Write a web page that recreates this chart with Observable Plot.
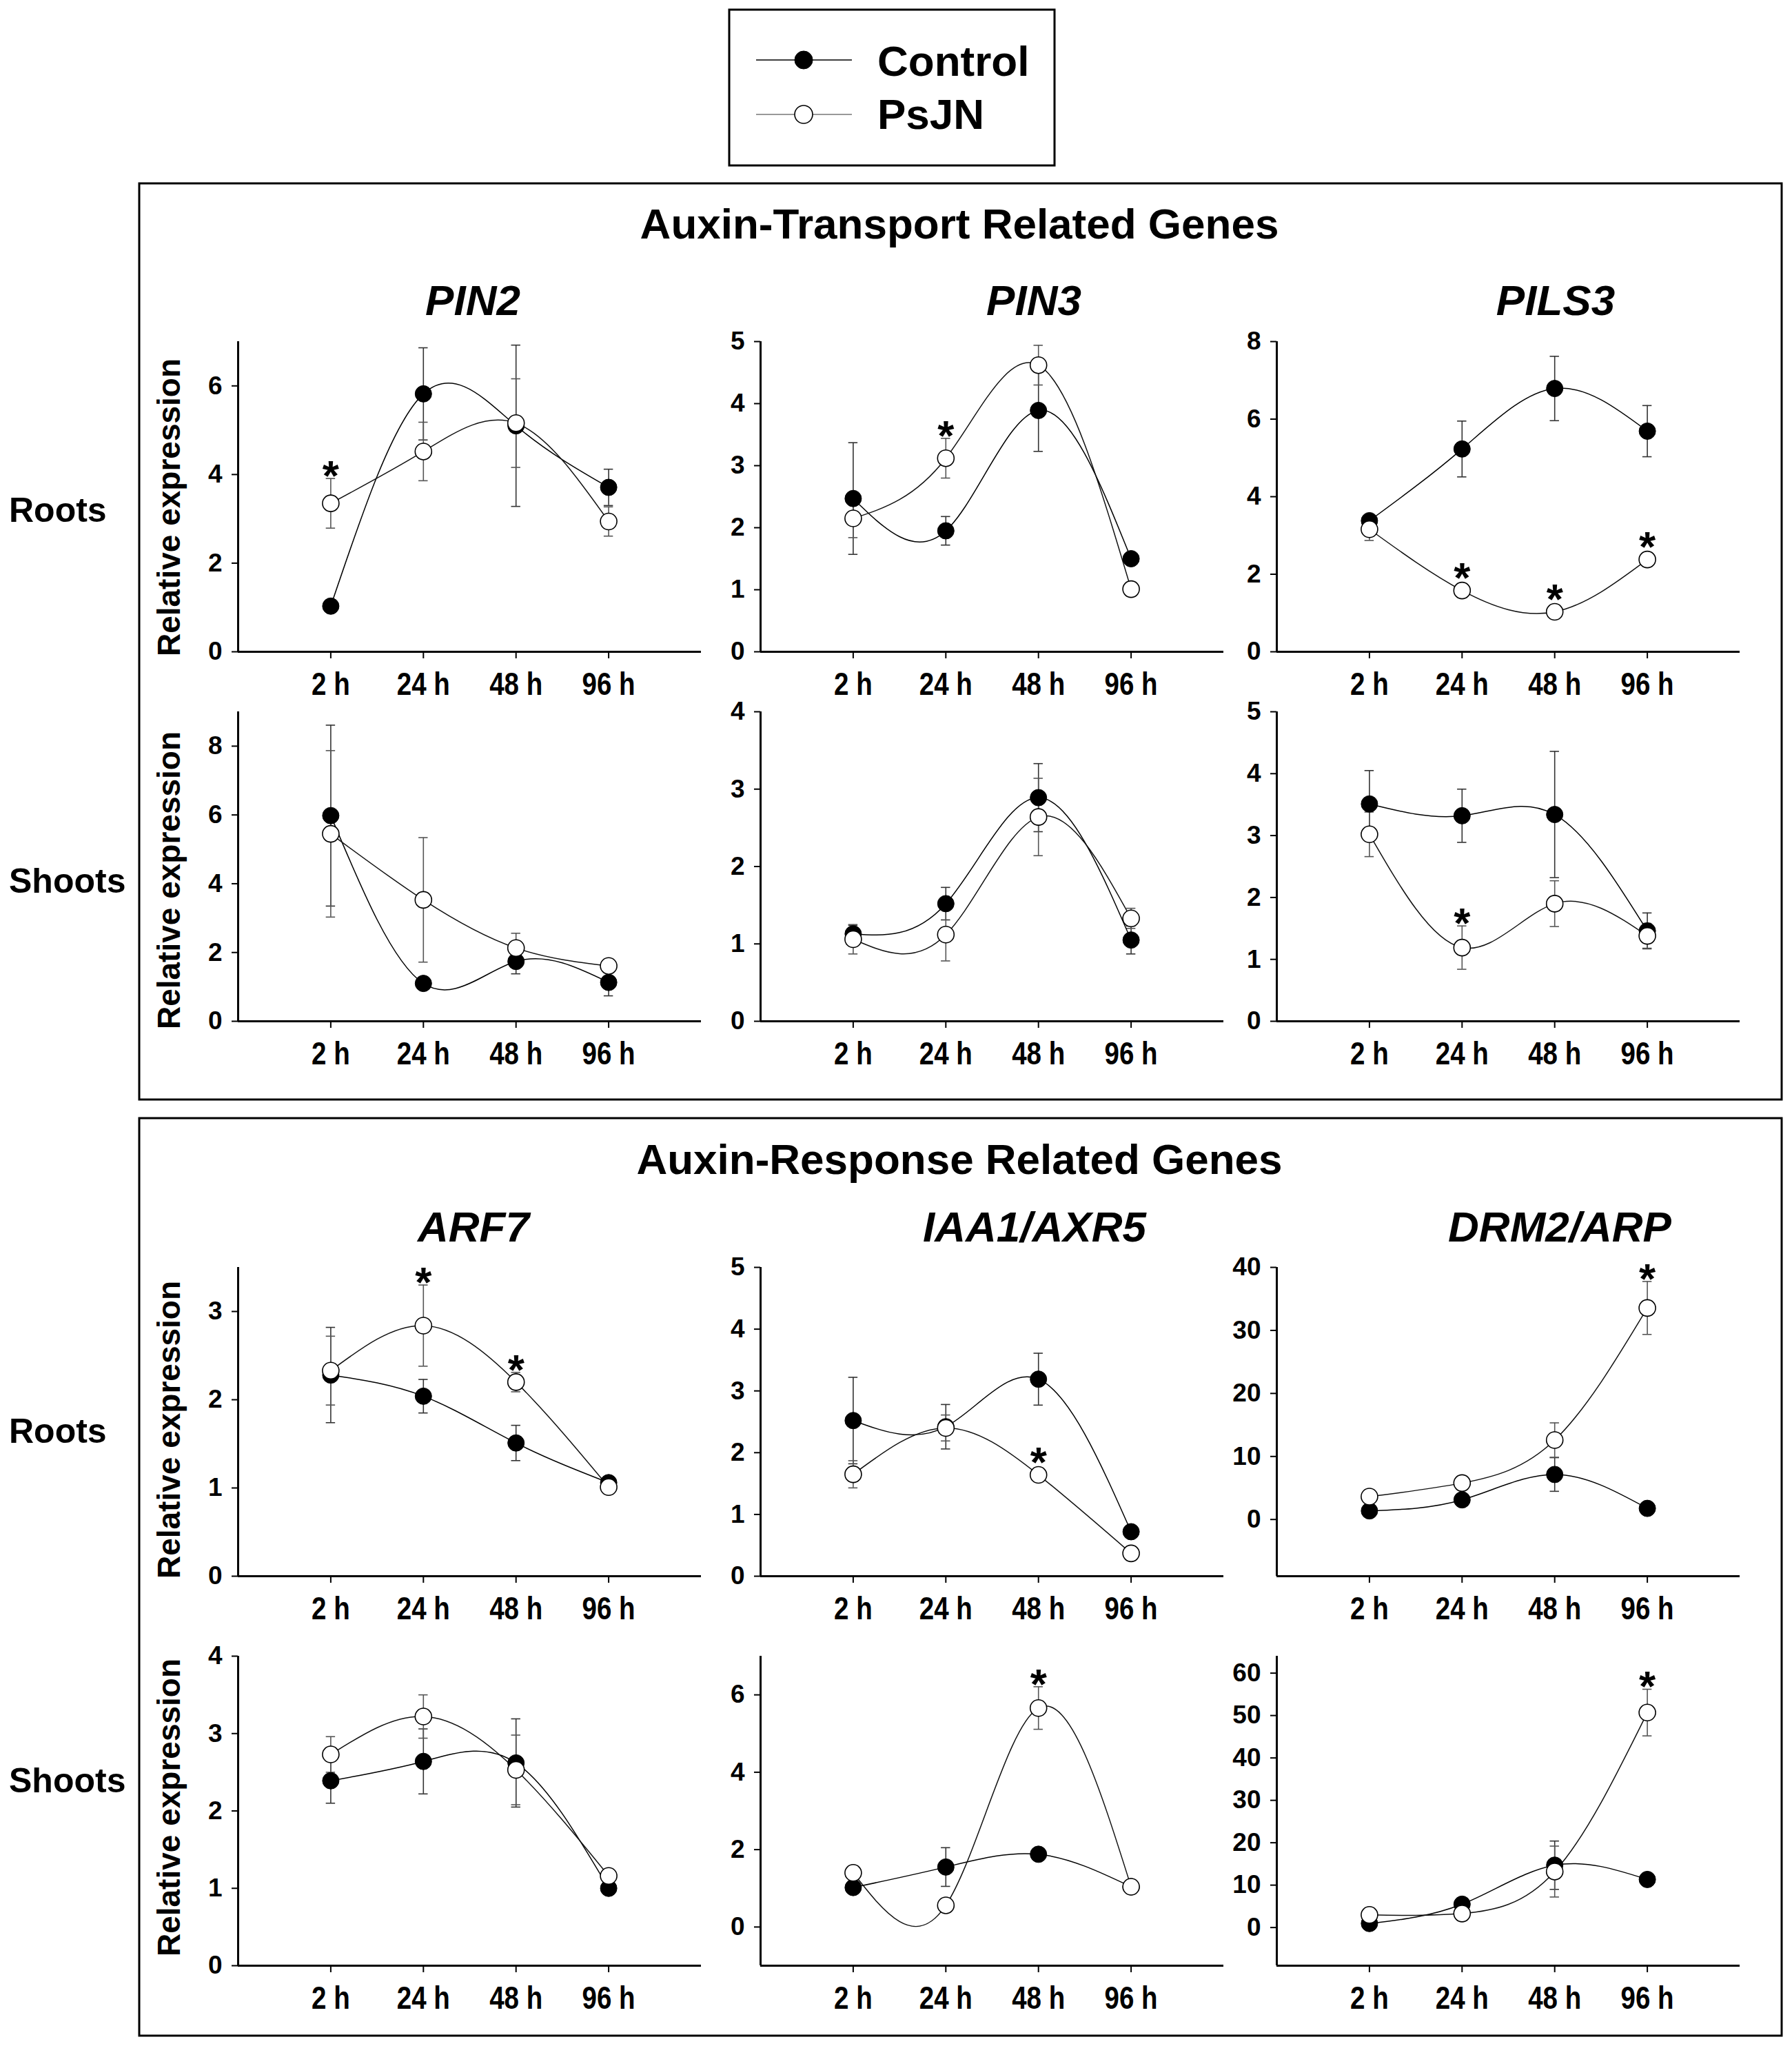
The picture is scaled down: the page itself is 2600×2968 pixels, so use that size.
<!DOCTYPE html>
<html>
<head>
<meta charset="utf-8">
<script src="https://cdn.jsdelivr.net/npm/d3@7"></script>
<script src="https://cdn.jsdelivr.net/npm/@observablehq/plot@0.6"></script>
<style>
  html, body { margin: 0; padding: 0; background: #fff; }
  #fig { position: relative; width: 2600px; height: 2968px; background: #fff; overflow: hidden; }
  #fig > svg.overlay { position: absolute; left: 0; top: 0; }
  .panel { position: absolute; }
</style>
</head>
<body>
<div id="fig"></div>
<script>
// ---------- Data ----------
const times = ["2 h", "24 h", "48 h", "96 h"];
const timePos = [1, 2, 3, 4];
const series = ["Control", "PsJN"];

// Auxin-transport related genes — Roots
const pin2R_ctl = [1.03, 5.82, 5.10, 3.71];
const pin2R_ctlSE = [0.05, 1.04, 1.82, 0.41];
const pin2R_psj = [3.35, 4.52, 5.16, 2.94];
const pin2R_psjSE = [0.56, 0.66, 1.00, 0.33];
const pin2R_star = [1, 0, 0, 0];

const pin3R_ctl = [2.47, 1.95, 3.89, 1.50];
const pin3R_ctlSE = [0.90, 0.23, 0.66, 0.05];
const pin3R_psj = [2.15, 3.12, 4.62, 1.01];
const pin3R_psjSE = [0.31, 0.32, 0.32, 0.03];
const pin3R_star = [0, 1, 0, 0];

const pils3R_ctl = [3.38, 5.23, 6.79, 5.69];
const pils3R_ctlSE = [0.10, 0.72, 0.83, 0.66];
const pils3R_psj = [3.16, 1.58, 1.03, 2.38];
const pils3R_psjSE = [0.29, 0.08, 0.06, 0.08];
const pils3R_star = [0, 1, 1, 1];

// Auxin-transport related genes — Shoots
const pin2S_ctl = [5.98, 1.10, 1.74, 1.13];
const pin2S_ctlSE = [2.63, 0.15, 0.36, 0.39];
const pin2S_psj = [5.45, 3.53, 2.13, 1.61];
const pin2S_psjSE = [2.42, 1.81, 0.43, 0.10];
const pin2S_star = [0, 0, 0, 0];

const pin3S_ctl = [1.13, 1.52, 2.89, 1.05];
const pin3S_ctlSE = [0.11, 0.21, 0.44, 0.18];
const pin3S_psj = [1.06, 1.12, 2.64, 1.33];
const pin3S_psjSE = [0.19, 0.34, 0.50, 0.13];
const pin3S_star = [0, 0, 0, 0];

const pils3S_ctl = [3.51, 3.32, 3.34, 1.46];
const pils3S_ctlSE = [0.54, 0.43, 1.02, 0.29];
const pils3S_psj = [3.02, 1.19, 1.90, 1.38];
const pils3S_psjSE = [0.36, 0.35, 0.37, 0.20];
const pils3S_star = [0, 1, 0, 0];

// Auxin-response related genes — Roots
const arf7R_ctl = [2.28, 2.04, 1.51, 1.06];
const arf7R_ctlSE = [0.54, 0.19, 0.20, 0.03];
const arf7R_psj = [2.33, 2.84, 2.20, 1.01];
const arf7R_psjSE = [0.39, 0.46, 0.11, 0.03];
const arf7R_star = [0, 1, 1, 0];

const iaa1R_ctl = [2.52, 2.42, 3.19, 0.72];
const iaa1R_ctlSE = [0.70, 0.36, 0.42, 0.03];
const iaa1R_psj = [1.65, 2.40, 1.64, 0.37];
const iaa1R_psjSE = [0.22, 0.21, 0.05, 0.03];
const iaa1R_star = [0, 0, 1, 0];

const drm2R_ctl = [1.37, 3.12, 7.14, 1.76];
const drm2R_ctlSE = [0.3, 0.5, 2.67, 0.3];
const drm2R_psj = [3.63, 5.78, 12.6, 33.56];
const drm2R_psjSE = [0.4, 0.5, 2.73, 4.2];
const drm2R_star = [0, 0, 0, 1];

// Auxin-response related genes — Shoots
const arf7S_ctl = [2.39, 2.64, 2.62, 1.00];
const arf7S_ctlSE = [0.29, 0.42, 0.57, 0.03];
const arf7S_psj = [2.73, 3.22, 2.53, 1.16];
const arf7S_psjSE = [0.23, 0.28, 0.45, 0.03];
const arf7S_star = [0, 0, 0, 0];

const iaa1S_ctl = [1.02, 1.55, 1.88, 1.04];
const iaa1S_ctlSE = [0.05, 0.50, 0.08, 0.05];
const iaa1S_psj = [1.40, 0.56, 5.66, 1.04];
const iaa1S_psjSE = [0.05, 0.05, 0.55, 0.05];
const iaa1S_star = [0, 0, 1, 0];

const drm2S_ctl = [0.95, 5.5, 14.7, 11.34];
const drm2S_ctlSE = [0.3, 0.8, 5.7, 1.5];
const drm2S_psj = [2.98, 3.3, 13.2, 50.7];
const drm2S_psjSE = [0.3, 0.3, 6.0, 5.5];
const drm2S_star = [0, 0, 0, 1];

// y-axis domains and tick values per panel
const yDom_pin2R = [0, 7],   yTicks_pin2R = [0, 2, 4, 6];
const yDom_pin3R = [0, 5],   yTicks_pin3R = [0, 1, 2, 3, 4, 5];
const yDom_pils3R = [0, 8],  yTicks_pils3R = [0, 2, 4, 6, 8];
const yDom_pin2S = [0, 9],   yTicks_pin2S = [0, 2, 4, 6, 8];
const yDom_pin3S = [0, 4],   yTicks_pin3S = [0, 1, 2, 3, 4];
const yDom_pils3S = [0, 5],  yTicks_pils3S = [0, 1, 2, 3, 4, 5];
const yDom_arf7R = [0, 3.5], yTicks_arf7R = [0, 1, 2, 3];
const yDom_iaa1R = [0, 5],   yTicks_iaa1R = [0, 1, 2, 3, 4, 5];
const yDom_drm2R = [-9, 40], yTicks_drm2R = [0, 10, 20, 30, 40];
const yDom_arf7S = [0, 4],   yTicks_arf7S = [0, 1, 2, 3, 4];
const yDom_iaa1S = [-1, 7],  yTicks_iaa1S = [0, 2, 4, 6];
const yDom_drm2S = [-9, 64], yTicks_drm2S = [0, 10, 20, 30, 40, 50, 60];

// ---------- Layout ----------
const W = 2600, H = 2968;
const colLeft = [345, 1103, 1852];
const rowTop = [495, 1032, 1838, 2402];
const rowBottom = [945, 1481, 2286, 2851];
const plotW = 672;

const panels = [
  {row: 0, col: 0, ctl: pin2R_ctl, ctlSE: pin2R_ctlSE, psj: pin2R_psj, psjSE: pin2R_psjSE, star: pin2R_star, dom: yDom_pin2R, ticks: yTicks_pin2R},
  {row: 0, col: 1, ctl: pin3R_ctl, ctlSE: pin3R_ctlSE, psj: pin3R_psj, psjSE: pin3R_psjSE, star: pin3R_star, dom: yDom_pin3R, ticks: yTicks_pin3R},
  {row: 0, col: 2, ctl: pils3R_ctl, ctlSE: pils3R_ctlSE, psj: pils3R_psj, psjSE: pils3R_psjSE, star: pils3R_star, dom: yDom_pils3R, ticks: yTicks_pils3R},
  {row: 1, col: 0, ctl: pin2S_ctl, ctlSE: pin2S_ctlSE, psj: pin2S_psj, psjSE: pin2S_psjSE, star: pin2S_star, dom: yDom_pin2S, ticks: yTicks_pin2S},
  {row: 1, col: 1, ctl: pin3S_ctl, ctlSE: pin3S_ctlSE, psj: pin3S_psj, psjSE: pin3S_psjSE, star: pin3S_star, dom: yDom_pin3S, ticks: yTicks_pin3S},
  {row: 1, col: 2, ctl: pils3S_ctl, ctlSE: pils3S_ctlSE, psj: pils3S_psj, psjSE: pils3S_psjSE, star: pils3S_star, dom: yDom_pils3S, ticks: yTicks_pils3S},
  {row: 2, col: 0, ctl: arf7R_ctl, ctlSE: arf7R_ctlSE, psj: arf7R_psj, psjSE: arf7R_psjSE, star: arf7R_star, dom: yDom_arf7R, ticks: yTicks_arf7R},
  {row: 2, col: 1, ctl: iaa1R_ctl, ctlSE: iaa1R_ctlSE, psj: iaa1R_psj, psjSE: iaa1R_psjSE, star: iaa1R_star, dom: yDom_iaa1R, ticks: yTicks_iaa1R},
  {row: 2, col: 2, ctl: drm2R_ctl, ctlSE: drm2R_ctlSE, psj: drm2R_psj, psjSE: drm2R_psjSE, star: drm2R_star, dom: yDom_drm2R, ticks: yTicks_drm2R},
  {row: 3, col: 0, ctl: arf7S_ctl, ctlSE: arf7S_ctlSE, psj: arf7S_psj, psjSE: arf7S_psjSE, star: arf7S_star, dom: yDom_arf7S, ticks: yTicks_arf7S},
  {row: 3, col: 1, ctl: iaa1S_ctl, ctlSE: iaa1S_ctlSE, psj: iaa1S_psj, psjSE: iaa1S_psjSE, star: iaa1S_star, dom: yDom_iaa1S, ticks: yTicks_iaa1S},
  {row: 3, col: 2, ctl: drm2S_ctl, ctlSE: drm2S_ctlSE, psj: drm2S_psj, psjSE: drm2S_psjSE, star: drm2S_star, dom: yDom_drm2S, ticks: yTicks_drm2S}
];

const FONT = "'Liberation Sans', Arial, Helvetica, sans-serif";
const fig = document.getElementById("fig");

// ---------- Static overlay: boxes, titles, row labels, legend ----------
const ov = d3.select(fig).append("svg").attr("class", "overlay")
  .attr("width", W).attr("height", H).attr("viewBox", `0 0 ${W} ${H}`)
  .style("font-family", FONT);

// section boxes
ov.append("rect").attr("x", 202).attr("y", 266).attr("width", 2383).attr("height", 1329)
  .attr("fill", "none").attr("stroke", "#000").attr("stroke-width", 3);
ov.append("rect").attr("x", 202).attr("y", 1622).attr("width", 2383).attr("height", 1331)
  .attr("fill", "none").attr("stroke", "#000").attr("stroke-width", 3);

// legend
const lg = ov.append("g");
lg.append("rect").attr("x", 1058).attr("y", 14).attr("width", 472).attr("height", 226)
  .attr("fill", "#fff").attr("stroke", "#000").attr("stroke-width", 3);
lg.append("line").attr("x1", 1097).attr("x2", 1236).attr("y1", 87).attr("y2", 87).attr("stroke", "#000").attr("stroke-width", 1.6);
lg.append("circle").attr("cx", 1166).attr("cy", 87).attr("r", 13).attr("fill", "#000").attr("stroke", "#000");
lg.append("line").attr("x1", 1097).attr("x2", 1236).attr("y1", 166).attr("y2", 166).attr("stroke", "#777").attr("stroke-width", 1.6);
lg.append("circle").attr("cx", 1166).attr("cy", 166).attr("r", 13).attr("fill", "#fff").attr("stroke", "#000").attr("stroke-width", 1.6);
lg.append("text").attr("x", 1273).attr("y", 110).attr("font-size", 62).attr("font-weight", "bold").text(series[0]);
lg.append("text").attr("x", 1273).attr("y", 187).attr("font-size", 62).attr("font-weight", "bold").text(series[1]);

// section titles
const sectionTitles = ["Auxin-Transport Related Genes", "Auxin-Response Related Genes"];
const sectionTitleY = [346, 1703];
sectionTitles.forEach((t, i) => {
  ov.append("text").attr("x", 1392).attr("y", sectionTitleY[i]).attr("text-anchor", "middle")
    .attr("font-size", 62).attr("font-weight", "bold").text(t);
});

// gene titles
const geneNames = [["PIN2", "PIN3", "PILS3"], ["ARF7", "IAA1/AXR5", "DRM2/ARP"]];
const geneX = [[686, 1500, 2257], [687, 1501, 2263]];
const geneY = [457, 1801];
geneNames.forEach((row, r) => row.forEach((g, c) => {
  ov.append("text").attr("x", geneX[r][c]).attr("y", geneY[r]).attr("text-anchor", "middle")
    .attr("font-size", 62).attr("font-weight", "bold").attr("font-style", "italic").text(g);
}));

// row labels
const rowLabels = ["Roots", "Shoots", "Roots", "Shoots"];
const rowLabelY = [757, 1295, 2093, 2600];
rowLabels.forEach((t, i) => {
  ov.append("text").attr("x", 13).attr("y", rowLabelY[i]).attr("font-size", 50).attr("font-weight", "bold").text(t);
});

// y-axis titles (left column)
const yLabelText = "Relative expression";
const yLabelCenter = [736, 1277, 2074, 2622];
yLabelCenter.forEach((cy) => {
  ov.append("text").attr("transform", `translate(261,${cy}) rotate(-90)`).attr("text-anchor", "middle")
    .attr("font-size", 46).attr("font-weight", "bold").text(yLabelText);
});

// ---------- Panels drawn with Observable Plot ----------
const mL = 90, mR = 12, mT = 45, mB = 90;
const CAP = 0.05; // cap half-width in x units

panels.forEach(p => {
  const top = rowTop[p.row], bottom = rowBottom[p.row], left = colLeft[p.col];
  const h = bottom - top;
  const pxPerUnit = h / (p.dom[1] - p.dom[0]);
  const ctl = timePos.map((x, i) => ({x, v: p.ctl[i], se: p.ctlSE[i]}));
  const psj = timePos.map((x, i) => ({x, v: p.psj[i], se: p.psjSE[i], star: p.star[i]}));
  const starsBig = psj.filter(d => d.star && d.se * pxPerUnit > 13).map(d => ({x: d.x, y: d.v + d.se}));
  const starsSmall = psj.filter(d => d.star && d.se * pxPerUnit <= 13).map(d => ({x: d.x, y: d.v}));

  const errMarks = (data, color) => [
    Plot.ruleX(data, {x: "x", y1: d => d.v - d.se, y2: d => d.v + d.se, stroke: color, strokeWidth: 1.6}),
    Plot.ruleY(data, {y: d => d.v + d.se, x1: d => d.x - CAP, x2: d => d.x + CAP, stroke: color, strokeWidth: 1.6}),
    Plot.ruleY(data, {y: d => d.v - d.se, x1: d => d.x - CAP, x2: d => d.x + CAP, stroke: color, strokeWidth: 1.6})
  ];

  const chart = Plot.plot({
    width: plotW + mL + mR,
    height: h + mT + mB,
    marginLeft: mL, marginRight: mR, marginTop: mT, marginBottom: mB,
    style: {background: "transparent", fontFamily: FONT, fontWeight: "bold", fontSize: "36px", overflow: "visible", color: "#000"},
    x: {domain: [0, 5], label: null},
    y: {domain: p.dom, label: null},
    marks: [
      Plot.axisY({ticks: p.ticks, label: null, tickSize: 9, tickPadding: 14, tickFormat: d => String(d), strokeWidth: 2}),
      Plot.axisX({ticks: timePos, label: null, tickSize: 10, tickPadding: 19, tickFormat: i => times[i - 1], strokeWidth: 2}),
      Plot.ruleX([0], {y1: p.dom[0], y2: p.dom[1], stroke: "#000", strokeWidth: 3}),
      Plot.ruleY([p.dom[0]], {x1: 0, x2: 5, stroke: "#000", strokeWidth: 3}),
      ...errMarks(ctl, "#333"),
      ...errMarks(psj, "#555"),
      Plot.line(ctl, {x: "x", y: "v", curve: "natural", stroke: "#000", strokeWidth: 1.5}),
      Plot.line(psj, {x: "x", y: "v", curve: "natural", stroke: "#111", strokeWidth: 1.5}),
      Plot.dot(ctl, {x: "x", y: "v", r: 12, fill: "#000", stroke: "#000", strokeWidth: 1}),
      Plot.dot(psj, {x: "x", y: "v", r: 12, fill: "#fff", stroke: "#000", strokeWidth: 1.6}),
      Plot.text(starsBig, {x: "x", y: "y", text: () => "*", fontSize: 62, fontWeight: "bold", dy: -3, lineAnchor: "middle"}),
      Plot.text(starsSmall, {x: "x", y: "y", text: () => "*", fontSize: 62, fontWeight: "bold", dy: -17, lineAnchor: "middle"})
    ]
  });
  const wrap = document.createElement("div");
  wrap.className = "panel";
  wrap.style.left = (left - mL) + "px";
  wrap.style.top = (top - mT) + "px";
  wrap.appendChild(chart);
  fig.appendChild(wrap);

  const svg = d3.select(chart);
  svg.selectAll('g[aria-label="y-axis tick label"]').attr("font-size", 37).attr("font-weight", "bold");
  const xl = svg.selectAll('g[aria-label="x-axis tick label"]').attr("font-size", 47).attr("font-weight", "bold");
  xl.selectAll("text").each(function () {
    const w = this.getComputedTextLength();
    if (w > 0) {
      this.setAttribute("textLength", (w * 0.82).toFixed(1));
      this.setAttribute("lengthAdjust", "spacingAndGlyphs");
    }
  });
});
</script>
</body>
</html>
